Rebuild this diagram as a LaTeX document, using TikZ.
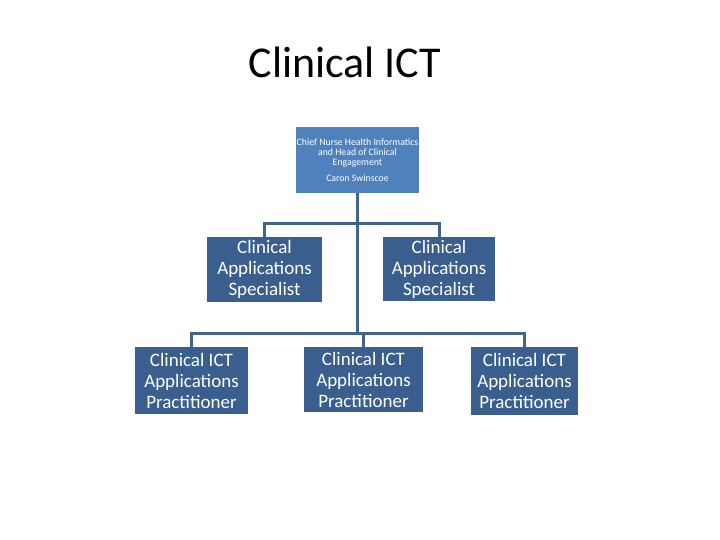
\documentclass[tikz,border=0pt]{standalone}
\usepackage{fontspec}
\setmainfont{Carlito}
\usepackage{tikz}
\usetikzlibrary{
  positioning,
  calc
}
\definecolor{ctTop}{HTML}{4F81BD}
\definecolor{ctBox}{HTML}{3A5F8E}
\definecolor{ctLine}{HTML}{41648F}
\tikzset{
  ctnode/.style={
    rectangle, inner sep=1pt, align=center, text=white
  },
  chief/.style={ctnode, fill=ctTop, font=\fontsize{9.8}{10.2}\selectfont},
  specbox/.style={ctnode, fill=ctBox, font=\fontsize{19}{21}\selectfont},
  pracbox/.style={ctnode, fill=ctBox, font=\fontsize{19}{21}\selectfont},
  orgline/.style={line width=3pt, draw=ctLine},
  ctitle/.style={font=\fontsize{44}{52}\selectfont}
}

\begin{document}
\begin{tikzpicture}[x=1pt, y=-1pt]
  \useasboundingbox (0,0) rectangle (720,540);
  \node[ctitle] (title) at (345,62) {Clinical ICT};

  % head of the team
  \node[chief, minimum width=123pt, minimum height=66pt] (head) at (357.5,160)
    {Chief Nurse Health Informatics\\and Head of Clinical\\Engagement\\[5pt]Caron Swinscoe};

  % specialists
  \node[specbox, minimum width=115pt, minimum height=65pt] (specL) at (264.5,269.5) {Clinical\\Applications\\Specialist};
  \node[specbox, minimum width=112pt, minimum height=64pt] (specR) at (439,269) {Clinical\\Applications\\Specialist};

  % practitioners
  \node[pracbox, minimum width=113pt, minimum height=67pt] (pracL) at (191.5,380.5) {Clinical ICT\\Applications\\Practitioner};
  \node[pracbox, minimum width=119pt, minimum height=65pt] (pracM) at (363.5,379.5) {Clinical ICT\\Applications\\Practitioner};
  \node[pracbox, minimum width=107pt, minimum height=68pt] (pracR) at (524.5,381) {Clinical ICT\\Applications\\Practitioner};

  \coordinate (jSpec) at (357,224);
  \coordinate (jPrac) at (357,333);

  \draw[orgline] (head.south -| jPrac) -- (jPrac);
  \draw[orgline] (specL.north) |- (jSpec) -| (specR.north);
  \draw[orgline] (pracL.north) |- (jPrac) -| (pracR.north);
  \draw[orgline] (pracM.north) -- (pracM.north |- jPrac);
\end{tikzpicture}
\end{document}
